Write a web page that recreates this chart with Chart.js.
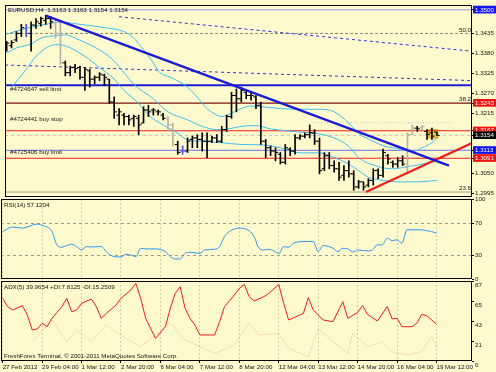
<!DOCTYPE html>
<html>
<head>
<meta charset="utf-8">
<title>EURUSD H4</title>
<script src="https://cdn.jsdelivr.net/npm/chart.js@4.4.1/dist/chart.umd.min.js"></script>
<style>
  html, body { margin: 0; padding: 0; background: #FFFACD; overflow: hidden; }
  #wrap { position: relative; width: 496px; height: 372px; }
  #wrap canvas { position: absolute; left: 0; top: 0; }
</style>
</head>
<body>
<div id="wrap">
  <canvas id="main" width="496" height="372"></canvas>
  <canvas id="rsi" width="496" height="372"></canvas>
  <canvas id="adx" width="496" height="372"></canvas>
</div>
<script>
"use strict";

// ---- chart data ----
const symbolTitle = "EURUSD,H4  1.3163 1.3163 1.3154 1.3154";
const rsiCaption = "RSI(14) 57.1204";
const adxCaption = "ADX(5) 39.9654 +DI:7.8125 -DI:15.2509";
const copyright = "FreshForex Terminal, \u00A9 2001-2011 MetaQuotes Software Corp.";

const xTickBars = [0, 8, 16, 24, 32, 40, 48, 56, 64, 72, 80, 88];
const xTickLabels = ["27 Feb 2012", "29 Feb 04:00", "1 Mar 12:00", "2 Mar 20:00", "6 Mar 04:00", "7 Mar 12:00",
    "8 Mar 20:00", "12 Mar 04:00", "13 Mar 12:00", "14 Mar 20:00", "16 Mar 04:00", "19 Mar 12:00"];

const barHigh = [1.3413, 1.3415, 1.3440, 1.3460, 1.3460, 1.3467, 1.3476, 1.3480, 1.3485, 1.3482,
    1.3471, 1.3467, 1.3359, 1.3345, 1.3350, 1.3345, 1.3341, 1.3336, 1.3318, 1.3327,
    1.3323, 1.3309, 1.3260, 1.3228, 1.3215, 1.3210, 1.3210, 1.3210, 1.3233, 1.3237,
    1.3228, 1.3224, 1.3215, 1.3206, 1.3188, 1.3138, 1.3125, 1.3147, 1.3152, 1.3156,
    1.3161, 1.3161, 1.3152, 1.3156, 1.3179, 1.3210, 1.3273, 1.3282, 1.3287, 1.3278,
    1.3273, 1.3264, 1.3246, 1.3143, 1.3125, 1.3120, 1.3107, 1.3129, 1.3120, 1.3156,
    1.3156, 1.3161, 1.3183, 1.3170, 1.3147, 1.3107, 1.3107, 1.3084, 1.3080, 1.3071,
    1.3084, 1.3057, 1.3030, 1.3026, 1.3035, 1.3062, 1.3062, 1.3116, 1.3102, 1.3084,
    1.3093, 1.3098, 1.3161, 1.3183, 1.3179, 1.3181, 1.3170, 1.3174, 1.3163];
const barLow = [1.3386, 1.3395, 1.3413, 1.3426, 1.3426, 1.3386, 1.3449, 1.3455, 1.3460, 1.3449,
    1.3422, 1.3350, 1.3318, 1.3318, 1.3327, 1.3309, 1.3278, 1.3287, 1.3296, 1.3305,
    1.3291, 1.3242, 1.3201, 1.3183, 1.3183, 1.3183, 1.3179, 1.3156, 1.3188, 1.3206,
    1.3210, 1.3210, 1.3197, 1.3165, 1.3125, 1.3102, 1.3102, 1.3107, 1.3120, 1.3120,
    1.3111, 1.3093, 1.3134, 1.3134, 1.3134, 1.3165, 1.3201, 1.3219, 1.3246, 1.3255,
    1.3251, 1.3228, 1.3129, 1.3093, 1.3098, 1.3084, 1.3075, 1.3075, 1.3098, 1.3102,
    1.3143, 1.3147, 1.3147, 1.3129, 1.3048, 1.3057, 1.3062, 1.3053, 1.3030, 1.3030,
    1.3039, 1.3003, 1.3008, 1.3003, 1.3012, 1.3017, 1.3035, 1.3039, 1.3075, 1.3066,
    1.3066, 1.3071, 1.3048, 1.3156, 1.3165, 1.3170, 1.3143, 1.3143, 1.3154];
const barOpen = [1.3390, 1.3401, 1.3417, 1.3435, 1.3449, 1.3435, 1.3458, 1.3462, 1.3471, 1.3476,
    1.3464, 1.3435, 1.3354, 1.3327, 1.3341, 1.3341, 1.3314, 1.3332, 1.3309, 1.3314,
    1.3320, 1.3309, 1.3246, 1.3210, 1.3210, 1.3206, 1.3201, 1.3201, 1.3188, 1.3224,
    1.3224, 1.3219, 1.3210, 1.3201, 1.3183, 1.3129, 1.3111, 1.3111, 1.3143, 1.3147,
    1.3143, 1.3138, 1.3138, 1.3147, 1.3138, 1.3170, 1.3206, 1.3264, 1.3255, 1.3273,
    1.3264, 1.3260, 1.3237, 1.3138, 1.3120, 1.3111, 1.3102, 1.3080, 1.3116, 1.3111,
    1.3147, 1.3152, 1.3156, 1.3161, 1.3138, 1.3062, 1.3098, 1.3071, 1.3062, 1.3044,
    1.3057, 1.3048, 1.3012, 1.3026, 1.3017, 1.3030, 1.3057, 1.3044, 1.3098, 1.3080,
    1.3075, 1.3084, 1.3066, 1.3156, 1.3174, 1.3176, 1.3165, 1.3161, 1.3163];
const barClose = [1.3408, 1.3410, 1.3435, 1.3451, 1.3435, 1.3458, 1.3467, 1.3476, 1.3476, 1.3467,
    1.3435, 1.3354, 1.3327, 1.3341, 1.3338, 1.3314, 1.3336, 1.3309, 1.3314, 1.3323,
    1.3314, 1.3246, 1.3219, 1.3219, 1.3206, 1.3197, 1.3206, 1.3183, 1.3224, 1.3219,
    1.3224, 1.3219, 1.3201, 1.3183, 1.3129, 1.3107, 1.3111, 1.3138, 1.3147, 1.3143,
    1.3138, 1.3138, 1.3147, 1.3138, 1.3170, 1.3206, 1.3264, 1.3255, 1.3278, 1.3264,
    1.3264, 1.3237, 1.3138, 1.3120, 1.3111, 1.3107, 1.3080, 1.3120, 1.3111, 1.3147,
    1.3152, 1.3156, 1.3161, 1.3138, 1.3057, 1.3098, 1.3071, 1.3062, 1.3039, 1.3057,
    1.3048, 1.3012, 1.3026, 1.3012, 1.3030, 1.3057, 1.3044, 1.3107, 1.3089, 1.3075,
    1.3084, 1.3075, 1.3156, 1.3174, 1.3172, 1.3179, 1.3156, 1.3152, 1.3154];

// three cyan averages, sampled at the bars where they could be read
const cyanTopX = [0, 4, 8, 11, 15, 20, 24, 26, 28, 30, 31, 34, 37, 39, 41, 43, 44, 46, 48, 50, 53, 56, 60, 64, 67, 70, 72, 75, 77, 81, 83, 85, 87, 88];
const cyanTopY = [1.3433, 1.3449, 1.3460, 1.3466, 1.3460, 1.3451, 1.3440, 1.3422, 1.3390, 1.3354, 1.3332, 1.3311, 1.3287, 1.3259, 1.3228, 1.3210, 1.3206,
    1.3215, 1.3228, 1.3235, 1.3232, 1.3228, 1.3226, 1.3226, 1.3219, 1.3188, 1.3160, 1.3138, 1.3126, 1.3115, 1.3109, 1.3120, 1.3134, 1.3147];
const cyanMidX = [0, 2, 5, 7, 10, 12, 14, 17, 20, 22, 24, 26, 30, 33, 37, 40, 43, 45, 48, 51, 54, 57, 60, 64, 67, 70, 72, 76, 79, 82, 85, 88];
const cyanMidY = [1.3381, 1.3395, 1.3406, 1.3422, 1.3429, 1.3431, 1.3422, 1.3404, 1.3381, 1.3359, 1.3327, 1.3295, 1.3255, 1.3219, 1.3197, 1.3179,
    1.3170, 1.3171, 1.3179, 1.3181, 1.3172, 1.3167, 1.3163, 1.3158, 1.3147, 1.3124, 1.3093, 1.3068, 1.3062, 1.3068, 1.3075, 1.3086];
const cyanLowX = [1, 4, 6, 10, 12, 16, 19, 22, 24, 27, 29, 32, 35, 37, 40, 44, 48, 52, 56, 60, 64, 67, 70, 72, 74, 77, 81, 84, 88];
const cyanLowY = [1.3287, 1.3336, 1.3372, 1.3404, 1.3401, 1.3372, 1.3341, 1.3309, 1.3278, 1.3242, 1.3210, 1.3183, 1.3160, 1.3142, 1.3138,
    1.3134, 1.3129, 1.3128, 1.3120, 1.3106, 1.3106, 1.3093, 1.3075, 1.3057, 1.3039, 1.3030, 1.3026, 1.3026, 1.3030];

// drawn objects on the price window
const trendDownX = [8, 90.5];
const trendDownY = [1.3484, 1.3071];
const trendUpX = [73.5, 95.2];
const trendUpY = [1.2998, 1.3133];
const channelTopX = [23, 95.2];
const channelTopY = [1.3481, 1.3386];
const channelLowX = [-0.3, 95.2];
const channelLowY = [1.3348, 1.3305];
const dottedLevelX = [62.5, 91.3];
const dottedLevelY = [1.3189, 1.3189];

const roundLevel = 1.3500;
const sellLimit = 1.3292;
const buyStop = 1.3167;
const bidPrice = 1.3154;
const buyLimit = 1.3113;
const redLevel = 1.3091;
const fiboPrices = [1.3435, 1.3243, 1.2998];
const fiboNames = ["50.0", "38.2", "23.6"];
const orderNotes = ["#4724647 sell limit", "#4724441 buy stop", "#4725406 buy limit"];
const orderNotePrices = [1.3281, 1.3198, 1.3108];
const markerBox = { x0: 86.3, x1: 88.3, y0: 1.3146, y1: 1.3171 };

const priceTicks = [1.3435, 1.3380, 1.3325, 1.3270, 1.3215, 1.3050, 1.2995];
const priceTags = [1.3500, 1.3243, 1.3167, 1.3154, 1.3113, 1.3091];
const tagColors = ["#1414EE", "#EE1414", "#EE1414", "#000000", "#1414EE", "#EE1414"];

const rsiX = [0, 2, 4, 7, 8, 10, 11, 12, 13, 14, 15, 16, 17, 18, 20, 21, 22, 24, 25, 26, 27, 28, 29, 31, 33, 34, 35, 36, 37, 38,
    40, 41, 43, 44, 45, 46, 48, 50, 51, 52, 53, 54, 55, 56, 57, 58, 59, 61, 62, 63, 64, 65, 67, 68, 69, 70, 71, 72, 74, 75,
    76, 77, 78, 79, 80, 81, 82, 83, 85, 86, 87, 88];
const rsiY = [59.4, 64.9, 63.6, 68.7, 67.0, 59.4, 42.6, 39.7, 41.8, 43.5, 40.5, 36.3, 40.5, 40.1, 40.5, 34.2, 29.2, 27.5, 30.9, 30.0,
    27.9, 38.4, 37.6, 37.6, 34.2, 27.9, 25.0, 25.0, 32.1, 33.4, 32.1, 36.3, 37.2, 40.5, 53.1, 59.4, 63.6, 60.3, 53.1, 38.4,
    36.3, 37.2, 35.1, 31.7, 40.5, 39.7, 44.7, 46.8, 46.8, 46.8, 34.2, 41.8, 38.4, 34.2, 38.4, 37.6, 33.8, 36.3, 35.1, 36.3,
    42.6, 42.6, 51.0, 48.1, 48.9, 44.7, 61.5, 61.5, 61.5, 60.3, 59.4, 57.1];
const rsiTicks = [0, 30, 70, 100];
const rsiLevels = [30, 70];

const adxX = [0, 1, 2, 4, 5, 6, 7, 8, 9, 10, 12, 13, 14, 15, 16, 18, 19, 20, 21, 23, 24, 26, 27, 28, 29, 31, 33, 34, 35, 36,
    37, 38, 39, 40, 43, 44, 45, 47, 48, 49, 50, 51, 53, 54, 56, 57, 58, 61, 62, 63, 65, 67, 69, 70, 72, 73, 74, 76, 78, 79,
    80, 81, 83, 84, 85, 86, 88];
const adxY = [68.1, 59.1, 55.5, 60.2, 50.0, 33.7, 34.8, 41.0, 37.3, 46.4, 59.1, 68.1, 53.6, 55.5, 62.7, 67.4, 59.1, 46.4, 51.8, 60.9,
    68.1, 77.2, 84.5, 68.1, 46.4, 24.6, 37.3, 57.3, 73.6, 80.8, 57.3, 46.4, 39.2, 28.3, 28.3, 42.8, 59.1, 71.8, 79.0, 83.4,
    70.0, 65.3, 70.0, 73.6, 83.4, 62.7, 44.6, 51.8, 68.9, 55.5, 44.6, 42.8, 64.5, 46.4, 52.9, 60.2, 50.7, 43.5, 59.1, 45.7,
    46.4, 37.3, 37.3, 41.0, 50.7, 49.3, 40.0];
const diX = [6, 10, 13, 15, 18, 21, 25, 28, 31, 34, 37, 40, 43, 47, 50, 52, 56, 58, 62, 64, 67, 70, 71, 74, 77, 79, 82, 85, 87, 88];
const diY = [21.0, 44.6, 21.0, 33.7, 21.0, 39.2, 24.6, 15.6, 28.3, 41.0, 22.8, 15.6, 8.3, 17.4, 41.7, 28.3, 30.1, 13.8, 4.7, 35.5,
    21.0, 8.3, 30.1, 15.6, 21.0, 10.1, 6.5, 10.1, 26.5, 15.3];
const adxTicks = [0, 21, 43, 65, 87];

// ---- layout / styling ----
const FONT = "'Liberation Sans', Arial, sans-serif";
const TEXT = "#141414";
const X_MIN = -0.34;
const X_MAX = 95.2;
const PRICE_MIN = 1.29843;
const PRICE_MAX = 1.35133;
const fadedBars = [10, 11, 33, 34, 82, 83, 85];
const blueBars = [4, 36];

Chart.defaults.font.family = FONT;
Chart.defaults.animation = false;

function points(xs, ys) {
    return xs.map((x, i) => ({ x, y: ys[i] }));
}

function barColor(ctx) {
    if (fadedBars.includes(ctx.dataIndex)) return "#B2B2A8";
    if (blueBars.includes(ctx.dataIndex)) return "#5050EE";
    return "#000000";
}

function tagColor(value) {
    const k = priceTags.indexOf(value);
    return k < 0 ? null : tagColors[k];
}

function segment(xs, ys, color, width, dash, order) {
    return {
        type: "line",
        data: points(xs, ys),
        borderColor: color,
        borderWidth: width,
        borderDash: dash || [],
        pointRadius: 0,
        order: order
    };
}

function level(price, color, width, dash) {
    return segment([X_MIN, X_MAX], [price, price], color, width, dash, 6);
}

function curve(xs, ys, color, order) {
    return {
        type: "line",
        data: points(xs, ys),
        borderColor: color,
        borderWidth: 1,
        pointRadius: 0,
        cubicInterpolationMode: "monotone",
        order: order
    };
}

function tickMarks(values, shift) {
    return {
        type: "line",
        data: values.map((v, i) => ({ x: i + shift, y: v })),
        showLine: false,
        pointStyle: "line",
        pointRadius: 1.1,
        pointBorderWidth: 1,
        pointBorderColor: barColor,
        pointBackgroundColor: barColor,
        order: 2
    };
}

function xAxis(showLabels, gridColor) {
    return {
        type: "linear",
        min: X_MIN,
        max: X_MAX,
        bounds: "data",
        offset: false,
        afterBuildTicks: s => { s.ticks = xTickBars.map(v => ({ value: v })); },
        afterFit: s => { s.height = showLabels ? 11 : 0; s.paddingLeft = 0; s.paddingRight = 0; },
        grid: { offset: false, color: gridColor, drawTicks: showLabels, tickLength: 2, tickColor: "#000" },
        border: { display: false, dash: [2, 2] },
        ticks: {
            display: showLabels,
            autoSkip: false,
            maxRotation: 0,
            minRotation: 0,
            align: "start",
            padding: 1,
            color: TEXT,
            font: { size: 6.2 },
            callback: (v, i) => xTickLabels[i]
        }
    };
}

function yAxis(min, max, ticks, extra) {
    return Object.assign({
        type: "linear",
        position: "right",
        min: min,
        max: max,
        bounds: "data",
        afterBuildTicks: s => { s.ticks = ticks.map(v => ({ value: v })); },
        afterFit: s => { s.width = 24; s.paddingTop = 0; s.paddingBottom = 0; },
        grid: { color: "rgba(0,0,0,0)", tickLength: 2, tickColor: "#000" },
        border: { display: false },
        ticks: { autoSkip: false, padding: 1, color: TEXT, font: { size: 6.2 } }
    }, extra || {});
}

const decor = {
    id: "decor",
    beforeDatasetsDraw(chart, args, opts) {
        const { ctx, scales: { x, y } } = chart;
        ctx.save();
        for (const b of opts.boxes || []) {
            const left = x.getPixelForValue(b.x0);
            const right = x.getPixelForValue(b.x1);
            const top = y.getPixelForValue(b.y1);
            const bottom = y.getPixelForValue(b.y0);
            ctx.fillStyle = "#F3CF36";
            ctx.fillRect(left, top, right - left, bottom - top);
            ctx.strokeStyle = "#E0A020";
            ctx.strokeRect(left + 0.5, top + 0.5, right - left - 1, bottom - top - 1);
        }
        ctx.restore();
    },
    afterDatasetsDraw(chart, args, opts) {
        const { ctx, chartArea: a, scales: { y } } = chart;
        ctx.save();
        ctx.font = "6.2px " + FONT;
        ctx.fillStyle = TEXT;
        ctx.textAlign = "left";
        ctx.textBaseline = "middle";
        for (const c of opts.captions || []) {
            ctx.fillText(c.text, a.left + 3, c.dy >= 0 ? a.top + c.dy : a.bottom + c.dy);
        }
        (opts.notes || []).forEach((text, i) => {
            ctx.fillText(text, a.left + 5, y.getPixelForValue(opts.notePrices[i]));
        });
        ctx.textAlign = "right";
        ctx.textBaseline = "bottom";
        (opts.fibs || []).forEach((text, i) => {
            ctx.fillText(text, a.right - 1, y.getPixelForValue(opts.fibPrices[i]) - 0.5);
        });
        ctx.strokeStyle = "#000";
        ctx.lineWidth = 1;
        ctx.strokeRect(a.left + 0.5, a.top + 0.5, a.right - a.left - 1, a.bottom - a.top - 1);
        ctx.restore();
    }
};

function baseOptions(top, bottom, xScale, yScale, decorOpts) {
    return {
        responsive: false,
        maintainAspectRatio: false,
        devicePixelRatio: 1,
        events: [],
        layout: { padding: { top: top, bottom: bottom, left: 1, right: 0 } },
        scales: { x: xScale, y: yScale },
        plugins: { legend: { display: false }, tooltip: { enabled: false }, decor: decorOpts }
    };
}

function buildMain() {
    const hiLo = barHigh.map((h, i) => ({ x: i, y: [barLow[i], h] }));
    const datasets = [
        segment(trendDownX, trendDownY, "#1C1CD6", 2.4, null, 1),
        segment(trendUpX, trendUpY, "#F01C1C", 2, null, 1),
        { type: "bar", data: hiLo, backgroundColor: barColor, borderWidth: 0, barThickness: 1, grouped: false, order: 2 },
        tickMarks(barOpen, -0.33),
        tickMarks(barClose, 0.33),
        curve(cyanTopX, cyanTopY, "#3CC0F0", 3),
        curve(cyanMidX, cyanMidY, "#3CC0F0", 3),
        curve(cyanLowX, cyanLowY, "#3CC0F0", 3),
        segment(channelTopX, channelTopY, "#3030DC", 1, [3, 3], 4),
        segment(channelLowX, channelLowY, "#3030DC", 1, [3, 3], 4),
        segment(dottedLevelX, dottedLevelY, "#BDBDD0", 1, [1, 2], 5),
        level(roundLevel, "#9A9AEE", 1),
        level(fiboPrices[0], "#8A856E", 1, [3, 2]),
        level(sellLimit, "#1C1CD6", 2),
        level(fiboPrices[1], "#7A1010", 1.2),
        level(buyStop, "#F01C1C", 1.1),
        level(bidPrice, "#C9C4AC", 1, [3, 3]),
        level(buyLimit, "#6E6EEA", 1),
        level(redLevel, "#F01C1C", 1.1),
        level(fiboPrices[2], "#A09E8C", 1)
    ];
    const y = yAxis(PRICE_MIN, PRICE_MAX, priceTicks.concat(priceTags), {
        grid: { color: "rgba(0,0,0,0)", tickLength: 2, tickColor: "#000" },
        ticks: {
            autoSkip: false,
            padding: 1,
            font: { size: 6.2, lineHeight: 1 },
            callback: v => v.toFixed(4),
            color: c => tagColor(c.tick.value) ? "#FFFFFF" : TEXT,
            showLabelBackdrop: c => !!tagColor(c.tick.value),
            backdropColor: c => tagColor(c.tick.value) || "rgba(0,0,0,0)",
            backdropPadding: { left: 2, right: 3, top: 1, bottom: 0.5 }
        }
    });
    new Chart(document.getElementById("main"), {
        type: "line",
        data: { datasets },
        options: baseOptions(1, 175, xAxis(false, "rgba(0,0,0,0)"), y, {
            captions: [{ text: symbolTitle, dy: 5 }],
            notes: orderNotes,
            notePrices: orderNotePrices,
            fibs: fiboNames,
            fibPrices: fiboPrices,
            boxes: [markerBox]
        }),
        plugins: [decor]
    });
}

function buildRsi() {
    const y = yAxis(0, 100, rsiTicks, {
        grid: { color: c => rsiLevels.includes(c.tick.value) ? "#A09C8A" : "rgba(0,0,0,0)", tickLength: 2, tickColor: "#000" },
        border: { display: false, dash: [3, 3] }
    });
    new Chart(document.getElementById("rsi"), {
        type: "line",
        data: { datasets: [curve(rsiX, rsiY, "#2E95EE", 1)] },
        options: baseOptions(199, 93, xAxis(false, "#D3CDA8"), y, { captions: [{ text: rsiCaption, dy: 6 }] }),
        plugins: [decor]
    });
}

function buildAdx() {
    const y = yAxis(0, 87, adxTicks);
    y.ticks.labelOffset = 4;
    const adxLine = segment(adxX, adxY, "#F01C1C", 1, null, 1);
    const diLine = segment(diX, diY, "rgba(232,160,140,0.35)", 1, null, 2);
    new Chart(document.getElementById("adx"), {
        type: "line",
        data: { datasets: [adxLine, diLine] },
        options: baseOptions(281, 0, xAxis(true, "#D3CDA8"), y, {
            captions: [{ text: adxCaption, dy: 6 }, { text: copyright, dy: -5 }]
        }),
        plugins: [decor]
    });
}

buildMain();
buildRsi();
buildAdx();
</script>
</body>
</html>
